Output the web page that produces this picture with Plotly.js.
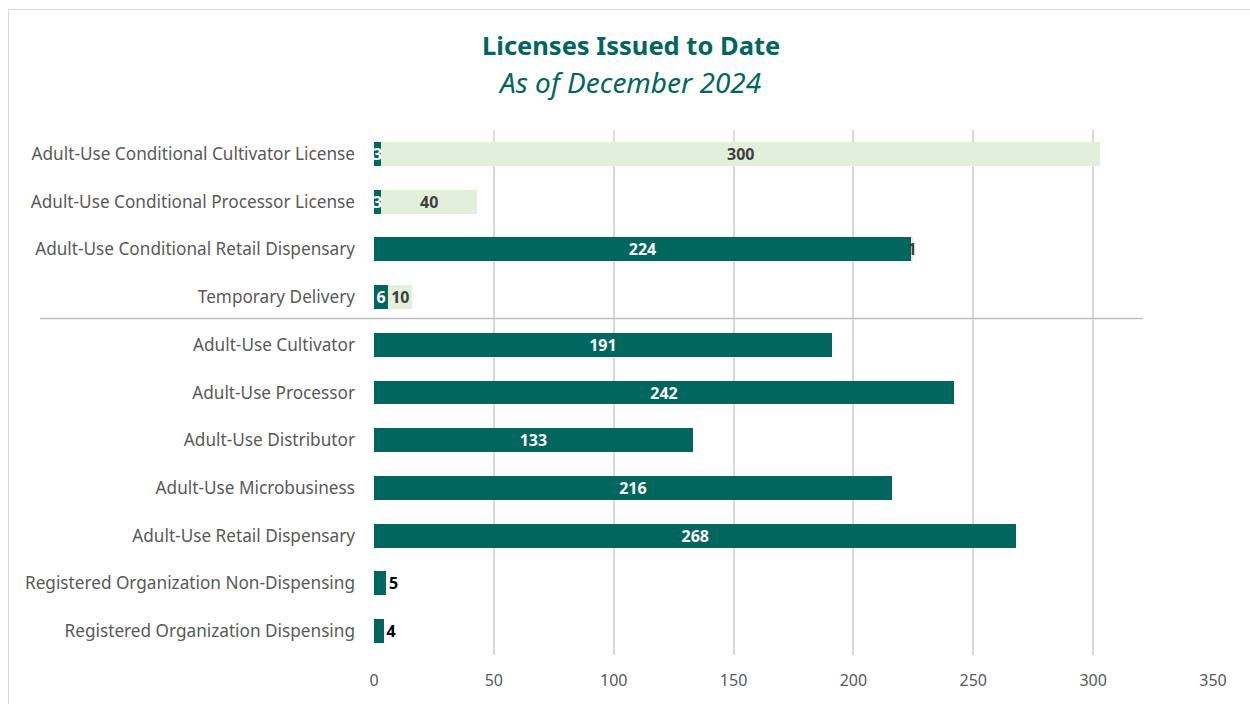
<!DOCTYPE html>
<html>
<head>
<meta charset="utf-8">
<script src="https://cdn.plot.ly/plotly-3.0.1.min.js"></script>
<style>
html,body{margin:0;padding:0;background:#fff;}
#chart{width:1250px;height:704px;}
</style>
</head>
<body>
<div id="chart"></div>
<script>
var categories = [
  "Adult-Use Conditional Cultivator License",
  "Adult-Use Conditional Processor License",
  "Adult-Use Conditional Retail Dispensary",
  "Temporary Delivery",
  "Adult-Use Cultivator",
  "Adult-Use Processor",
  "Adult-Use Distributor",
  "Adult-Use Microbusiness",
  "Adult-Use Retail Dispensary",
  "Registered Organization Non-Dispensing",
  "Registered Organization Dispensing"
];
var darkValues  = [3, 3, 224, 6, 191, 242, 133, 216, 268, 5, 4];
var lightValues = [300, 40, 1, 10, null, null, null, null, null, null, null];
var xTicks = [0, 50, 100, 150, 200, 250, 300, 350];

var darkPos = darkValues.map(function(v){ return v < 6 && v > 3 ? "outside" : "inside"; });
var darkTextColor = darkValues.map(function(v){ return v < 6 && v > 3 ? "#000000" : "#FFFFFF"; });

var traceDark = {
  type: "bar", orientation: "h",
  y: categories, x: darkValues,
  text: darkValues.map(String),
  textposition: darkPos,
  textangle: 0,
  insidetextanchor: "middle",
  constraintext: "none",
  cliponaxis: false,
  textfont: {family: "Noto Sans", size: 16, color: darkTextColor, weight: "bold"},
  marker: {color: "#00665E"},
  hoverinfo: "skip"
};
var traceLight = {
  type: "bar", orientation: "h",
  y: categories, x: lightValues,
  text: lightValues.map(function(v){ return v === null ? "" : String(v); }),
  textposition: "inside",
  textangle: 0,
  insidetextanchor: "middle",
  constraintext: "none",
  cliponaxis: false,
  textfont: {family: "Noto Sans", size: 16, color: "#404040", weight: "bold"},
  marker: {color: "#E2EFDA"},
  hoverinfo: "skip"
};

var L = 374, R = 1213, T = 130, B = 655;
var W = R - L, H = B - T;
function px(x){ return (x - L) / W; }
function py(y){ return (B - y) / H; }

var layout = {
  width: 1250, height: 704,
  margin: {l: L, r: 1250 - R, t: T, b: 704 - B, pad: 0},
  paper_bgcolor: "#FFFFFF", plot_bgcolor: "#FFFFFF",
  barmode: "stack", bargap: 0.5,
  showlegend: false,
  font: {family: "Noto Sans", color: "#595959"},
  xaxis: {
    range: [0, 350], tickvals: xTicks, ticktext: xTicks.map(String),
    showgrid: true, gridcolor: "#D9D9D9", gridwidth: 2,
    zeroline: false, showline: false, ticks: "",
    tickfont: {family: "Noto Sans", size: 16, color: "#595959"},
    ticklabelstandoff: 14, fixedrange: true
  },
  yaxis: {
    categoryorder: "array", categoryarray: categories,
    autorange: "reversed",
    showgrid: false, zeroline: false, showline: false, ticks: "",
    tickfont: {family: "Noto Sans", size: 17.2, color: "#595959"},
    ticklabelstandoff: 18, fixedrange: true
  },
  annotations: [
    {xref: "paper", yref: "paper", x: px(631), y: py(45), text: "<b>Licenses Issued to Date</b>",
     showarrow: false, xanchor: "center", yanchor: "middle",
     font: {family: "Noto Sans", size: 25.5, color: "#00665E"}},
    {xref: "paper", yref: "paper", x: px(630), y: py(82), text: "<i>As of December 2024</i>",
     showarrow: false, xanchor: "center", yanchor: "middle",
     font: {family: "Noto Sans", size: 28, color: "#00665E"}}
  ],
  shapes: [
    {type: "line", xref: "paper", yref: "y", x0: px(40), x1: px(1143), y0: 3.45, y1: 3.45,
     line: {color: "#BFBFBF", width: 1.5}},
    {type: "rect", xref: "paper", yref: "paper", x0: px(8.5), x1: px(1300), y0: py(9.5), y1: py(760),
     line: {color: "#D9D9D9", width: 1}, fillcolor: "rgba(0,0,0,0)", layer: "below"}
  ]
};

Plotly.newPlot("chart", [traceDark, traceLight], layout, {displayModeBar: false, staticPlot: true});
</script>
</body>
</html>
